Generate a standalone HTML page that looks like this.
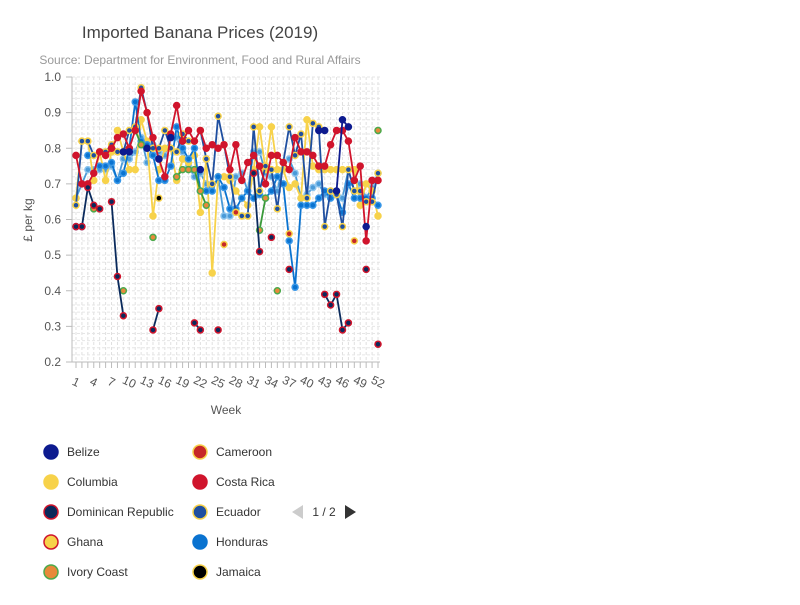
<!DOCTYPE html>
<html><head><meta charset="utf-8"><style>
body{margin:0;background:#fff;font-family:"Liberation Sans",sans-serif;}
svg text{font-family:"Liberation Sans",sans-serif;}
</style></head><body>
<svg id="c" width="800" height="600">
<text x="200" y="38" text-anchor="middle" font-size="17" fill="#444">Imported Banana Prices (2019)</text>
<text x="200" y="64" text-anchor="middle" font-size="12" fill="#999">Source: Department for Environment, Food and Rural Affairs</text>
<g id="grid"></g><g id="axes"></g><g id="series"></g><g id="legend"></g>
</svg>
<script>
const weeks=[];for(let i=1;i<=52;i++)weeks.push(i);
const yTicks=[0.2,0.3,0.4,0.5,0.6,0.7,0.8,0.9,1.0];
const xTickLabels=[1,4,7,10,13,16,19,22,25,28,31,34,37,40,43,46,49,52];
const costaRica=[0.78,0.70,0.70,0.73,0.79,0.78,0.80,0.83,0.84,0.80,0.85,0.96,0.90,0.83,0.77,0.72,0.84,0.92,0.82,0.85,0.82,0.85,0.80,0.81,0.80,0.81,0.74,0.81,0.71,0.76,0.78,0.75,0.70,0.78,0.78,0.76,0.74,0.83,0.79,0.79,0.78,0.75,0.75,0.81,0.85,0.85,0.82,0.71,0.75,0.54,0.71,0.71];
const columbia=[0.66,0.82,0.82,0.71,0.79,0.71,0.79,0.85,0.79,0.74,0.74,0.88,0.82,0.61,0.74,0.80,0.80,0.71,0.77,0.76,0.78,0.62,0.77,0.45,0.72,0.72,0.71,0.68,0.66,0.64,0.74,0.86,0.74,0.86,0.74,0.74,0.69,0.70,0.66,0.88,0.75,0.74,0.74,0.74,0.74,0.74,0.74,0.74,0.64,0.70,0.68,0.61];
const honduras=[null,null,0.78,null,0.75,0.75,0.76,0.71,0.73,0.80,0.93,0.82,0.81,0.78,0.71,0.71,0.75,0.86,0.80,0.77,0.80,0.68,0.68,0.68,0.72,0.69,0.63,0.63,0.66,0.68,0.66,0.67,0.66,0.68,0.72,0.70,0.54,0.41,0.64,0.64,0.64,0.66,0.68,0.66,0.67,0.62,0.70,0.66,0.66,0.66,0.66,0.64];
const ecuador=[0.64,0.82,0.82,0.78,0.79,0.79,0.81,0.79,0.79,0.85,0.86,0.97,0.90,0.80,0.80,0.85,0.80,0.79,0.84,0.82,0.82,0.85,0.77,0.70,0.89,0.81,0.72,0.62,0.61,0.61,0.86,0.68,0.75,0.74,0.63,0.76,0.86,0.78,0.84,0.66,0.87,0.86,0.58,0.68,0.67,0.58,0.74,0.68,0.68,0.65,0.65,0.73];
const dominican=[0.58,0.58,0.69,0.64,0.63,null,0.65,0.44,0.33,null,null,null,null,0.29,0.35,null,null,null,null,null,0.31,0.29,null,null,0.29,null,null,null,null,null,0.73,0.51,null,0.55,null,null,0.46,null,null,null,null,null,0.39,0.36,0.39,0.29,0.31,null,null,0.46,null,0.25];
const belize=[0.58,0.58,null,null,null,null,null,null,0.79,0.79,null,null,0.80,null,0.77,null,0.83,null,null,null,null,0.74,null,null,null,null,null,null,null,null,null,null,null,null,null,null,null,null,null,null,null,0.85,0.85,null,0.68,0.88,0.86,null,null,0.58,null,null];
const ivoryCoast=[null,null,null,0.63,null,null,null,null,0.40,null,0.85,0.81,null,0.55,null,null,null,0.72,0.74,0.74,0.74,0.68,0.64,null,null,null,null,null,null,null,null,0.57,0.66,null,0.40,null,null,null,null,null,null,null,null,null,null,null,null,null,null,null,null,0.85];
const lightBlue=[0.66,0.70,0.74,0.74,0.74,0.74,0.75,0.71,0.77,0.77,0.79,0.83,0.76,0.81,0.79,0.78,0.83,0.83,0.79,0.75,0.72,0.73,0.70,0.68,0.72,0.61,0.61,0.72,0.73,0.68,0.79,0.79,0.73,0.72,0.68,0.76,0.77,0.73,0.66,0.67,0.69,0.70,0.67,0.68,0.67,0.66,0.74,0.68,0.70,0.66,0.69,0.73];
const cameroon=[null,null,null,null,null,null,null,null,null,null,null,null,null,null,null,null,null,null,null,null,null,null,null,null,null,0.53,null,0.62,null,null,null,null,null,null,null,null,0.56,null,null,null,null,null,null,null,null,null,null,0.54,null,null,null,null];
const jamaica=[null,null,null,null,null,null,null,null,null,null,null,null,null,null,0.66,null,null,null,null,null,null,null,null,null,null,null,null,null,null,null,null,null,null,null,null,null,null,null,null,null,null,null,null,null,null,null,null,null,null,null,null,null];
const X=w=>76+(w-1)*(302/51);
const Y=v=>77+(1-v)*356.25;
const ns="http://www.w3.org/2000/svg";
function mk(t,p,a){const e=document.createElementNS(ns,t);for(const k in a)e.setAttribute(k,a[k]);p.appendChild(e);return e;}
const grid=document.getElementById('grid'),axes=document.getElementById('axes');
weeks.forEach(w=>{const l=mk('line',grid,{x1:X(w),x2:X(w),y1:77,y2:362,stroke:'#e0e0e0','stroke-dasharray':'3,2'});

const t=mk('line',axes,{x1:X(w),x2:X(w),y1:362,y2:368,stroke:'#bbb'});
});
for(let v=0.2;v<=1.0001;v+=0.02){const l=mk('line',grid,{x1:72,x2:380,y1:Y(v),y2:Y(v),stroke:'#e6e6e6','stroke-dasharray':'3,2'});
}
mk('line',axes,{x1:72,x2:72,y1:77,y2:362,stroke:'#bbb'});
mk('line',axes,{x1:66,x2:380,y1:362,y2:362,stroke:'#bbb'});
yTicks.forEach(v=>{mk('line',axes,{x1:66,x2:72,y1:Y(v),y2:Y(v),stroke:'#bbb'});
const t=mk('text',axes,{x:61,y:Y(v)+4,'text-anchor':'end','font-size':12,fill:'#555'});t.textContent=v.toFixed(1);
});
xTickLabels.forEach(w=>{const t=mk('text',axes,{x:X(w),y:386,'text-anchor':'middle','font-size':12,fill:'#555',transform:`rotate(25 ${X(w)} 382)`});t.textContent=w;
});
let t=mk('text',axes,{x:226,y:414,'text-anchor':'middle','font-size':12,fill:'#555'});t.textContent='Week';

t=mk('text',axes,{x:32,y:220,'text-anchor':'middle','font-size':12,fill:'#555',transform:'rotate(-90 32 220)'});t.textContent='£ per kg';

const S=document.getElementById('series');
function draw(vals,name,line,fill,stroke){
 const g=mk('g',S,{});
 let seg=[];const segs=[];vals.forEach((v,i)=>{if(v==null){if(seg.length)segs.push(seg);seg=[];}else seg.push([X(i+1),Y(v)]);});if(seg.length)segs.push(seg);
 segs.forEach(s=>{if(s.length>1){const p=mk('polyline',g,{points:s.map(q=>q.join(',')).join(' '),fill:'none',stroke:line,'stroke-width':1.8});
 }});
 vals.forEach((v,i)=>{if(v==null)return;const c=mk('circle',g,{cx:X(i+1),cy:Y(v),r:3,fill:fill,stroke:stroke,'stroke-width':1.5});
 });
}
draw(lightBlue,'light-blue','#4a9ad8','#4a9ad8','#8cc4ee');
draw(columbia,'columbia','#f7d24a','#f7d24a','#f7d24a');
draw(honduras,'honduras','#0a73d0','#0a73d0','#3a98e8');
draw(ivoryCoast,'ivory-coast','#3a9a3a','#e8893a','#4caa4c');
draw(ecuador,'ecuador','#1f4fa0','#1f4fa0','#f7d24a');
draw(costaRica,'costa-rica','#d0142c','#d0142c','#d0142c');
draw(belize,'belize','#0d1b8f','#0d1b8f','#0d1b8f');
draw(dominican,'dominican-republic','#0a2a5c','#0a2a5c','#d0142c');
draw(cameroon,'cameroon','#c62828','#c62828','#f7d24a');
draw(jamaica,'jamaica','#000','#000','#f7d24a');
const L=document.getElementById('legend');
const items=[['Belize','#0d1b8f','#0d1b8f'],['Columbia','#f7d24a','#f7d24a'],['Dominican Republic','#0a2a5c','#d0142c'],['Ghana','#f7d24a','#d0142c'],['Ivory Coast','#e8893a','#4caa4c'],
['Cameroon','#c62828','#f7d24a'],['Costa Rica','#d0142c','#d0142c'],['Ecuador','#1f4fa0','#f7d24a'],['Honduras','#0a73d0','#0a73d0'],['Jamaica','#000','#f7d24a']];
items.forEach((it,i)=>{const col=i<5?0:1,row=i%5;const x=col?200:51,y=452+row*30;
 const g=mk('g',L,{});
 mk('circle',g,{cx:x,cy:y,r:7,fill:it[1],stroke:it[2],'stroke-width':1.5});
 const tt=mk('text',g,{x:x+16,y:y+4,'font-size':12,fill:'#333'});tt.textContent=it[0];});
const pg=mk('g',L,{});
const pv=mk('path',pg,{d:'M292 512 L303 505 L303 519 Z',fill:'#ccc'});
const pt=mk('text',pg,{x:324,y:516,'text-anchor':'middle','font-size':12,fill:'#333'});pt.textContent='1 / 2';
const nx=mk('path',pg,{d:'M356 512 L345 505 L345 519 Z',fill:'#333'});
</script>
</body></html>
